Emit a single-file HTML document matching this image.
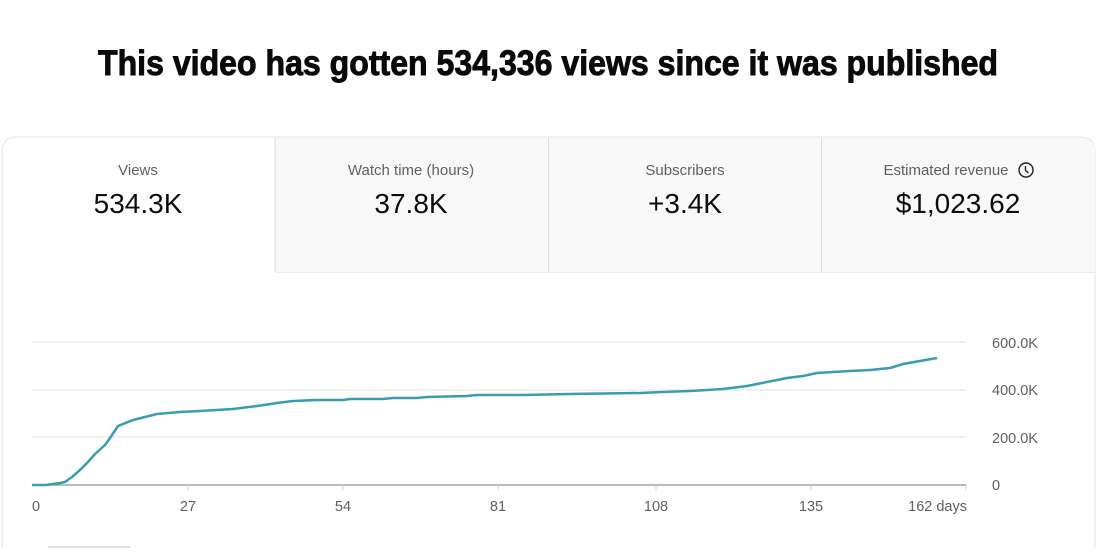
<!DOCTYPE html>
<html><head><meta charset="utf-8"><style>
body{margin:0;width:1098px;height:548px;background:#fff;overflow:hidden;font-family:"Liberation Sans",sans-serif;}
</style></head><body>
<svg width="1098" height="548" xmlns="http://www.w3.org/2000/svg" font-family="Liberation Sans, sans-serif">
<text x="98" y="75" font-size="35" font-weight="bold" fill="#0a0a0a" stroke="#0a0a0a" stroke-width="0.9" textLength="900" lengthAdjust="spacingAndGlyphs">This video has gotten 534,336 views since it was published</text>
<path d="M2,560 V152 Q2,137 17,137 H1080 Q1095,137 1095,152 V560" fill="#fff" stroke="#e4e4e4"/>
<path d="M275,137.5 H1080 Q1095,137.5 1095,152 V272 H275 Z" fill="#f8f8f8"/>
<line x1="275" y1="138" x2="275" y2="272" stroke="#dcdcdc"/>
<line x1="548.5" y1="138" x2="548.5" y2="272" stroke="#dcdcdc"/>
<line x1="821.5" y1="138" x2="821.5" y2="272" stroke="#dcdcdc"/>
<line x1="275" y1="272.5" x2="1095" y2="272.5" stroke="#ececec"/>
<g text-anchor="middle" fill="#606060" font-size="15">
<text x="138" y="175">Views</text>
<text x="411" y="175">Watch time (hours)</text>
<text x="685" y="175">Subscribers</text>
<text x="946" y="175">Estimated revenue</text>
</g>
<circle cx="1026" cy="170" r="7" fill="none" stroke="#222" stroke-width="1.4"/>
<path d="M1025.5,166 V170.5 L1028.5,173" fill="none" stroke="#222" stroke-width="1.4"/>
<g text-anchor="middle" fill="#0d0d0d" font-size="28">
<text x="138" y="213">534.3K</text>
<text x="411" y="213">37.8K</text>
<text x="685" y="213">+3.4K</text>
<text x="958" y="213">$1,023.62</text>
</g>
<g stroke="#ececec" stroke-width="1.5">
<line x1="32" y1="342" x2="966" y2="342"/>
<line x1="32" y1="390" x2="966" y2="390"/>
<line x1="32" y1="437" x2="966" y2="437"/>
</g>
<line x1="32" y1="485" x2="966" y2="485" stroke="#909090" stroke-width="1.2"/>
<g stroke="#d0d0d0"><line x1="188" y1="485" x2="188" y2="490"/><line x1="343" y1="485" x2="343" y2="490"/><line x1="498" y1="485" x2="498" y2="490"/><line x1="656" y1="485" x2="656" y2="490"/><line x1="811" y1="485" x2="811" y2="490"/><line x1="966" y1="485" x2="966" y2="490"/></g>
<g fill="#606060" font-size="14.5">
<text x="32" y="511">0</text>
<text x="188" y="511" text-anchor="middle">27</text>
<text x="343" y="511" text-anchor="middle">54</text>
<text x="498" y="511" text-anchor="middle">81</text>
<text x="656" y="511" text-anchor="middle">108</text>
<text x="811" y="511" text-anchor="middle">135</text>
<text x="967" y="511" text-anchor="end">162 days</text>
<text x="992" y="348">600.0K</text>
<text x="992" y="395">400.0K</text>
<text x="992" y="443">200.0K</text>
<text x="992" y="490">0</text>
</g>
<polyline fill="none" stroke="#3a9cae" stroke-width="2.5" stroke-linejoin="round" points="32,485 46,485 60,483 65,482 72,477 80,470 88,462 95,454 105,445 110,438 118,426 133,420 157,414 180,412 200,411 233,409 257,406 277,403 293,401 317,400 343,400 350,399 383,399 393,398 417,398 427,397 467,396 477,395 523,395 570,394 640,393 663,392 690,391 707,390 723,389 747,386 767,382 787,378 803,376 817,373 833,372 850,371 870,370 890,368 903,364 937,358"/>
<line x1="48" y1="547" x2="130" y2="547" stroke="#e0e0e0" stroke-width="2"/>
</svg>
</body></html>
